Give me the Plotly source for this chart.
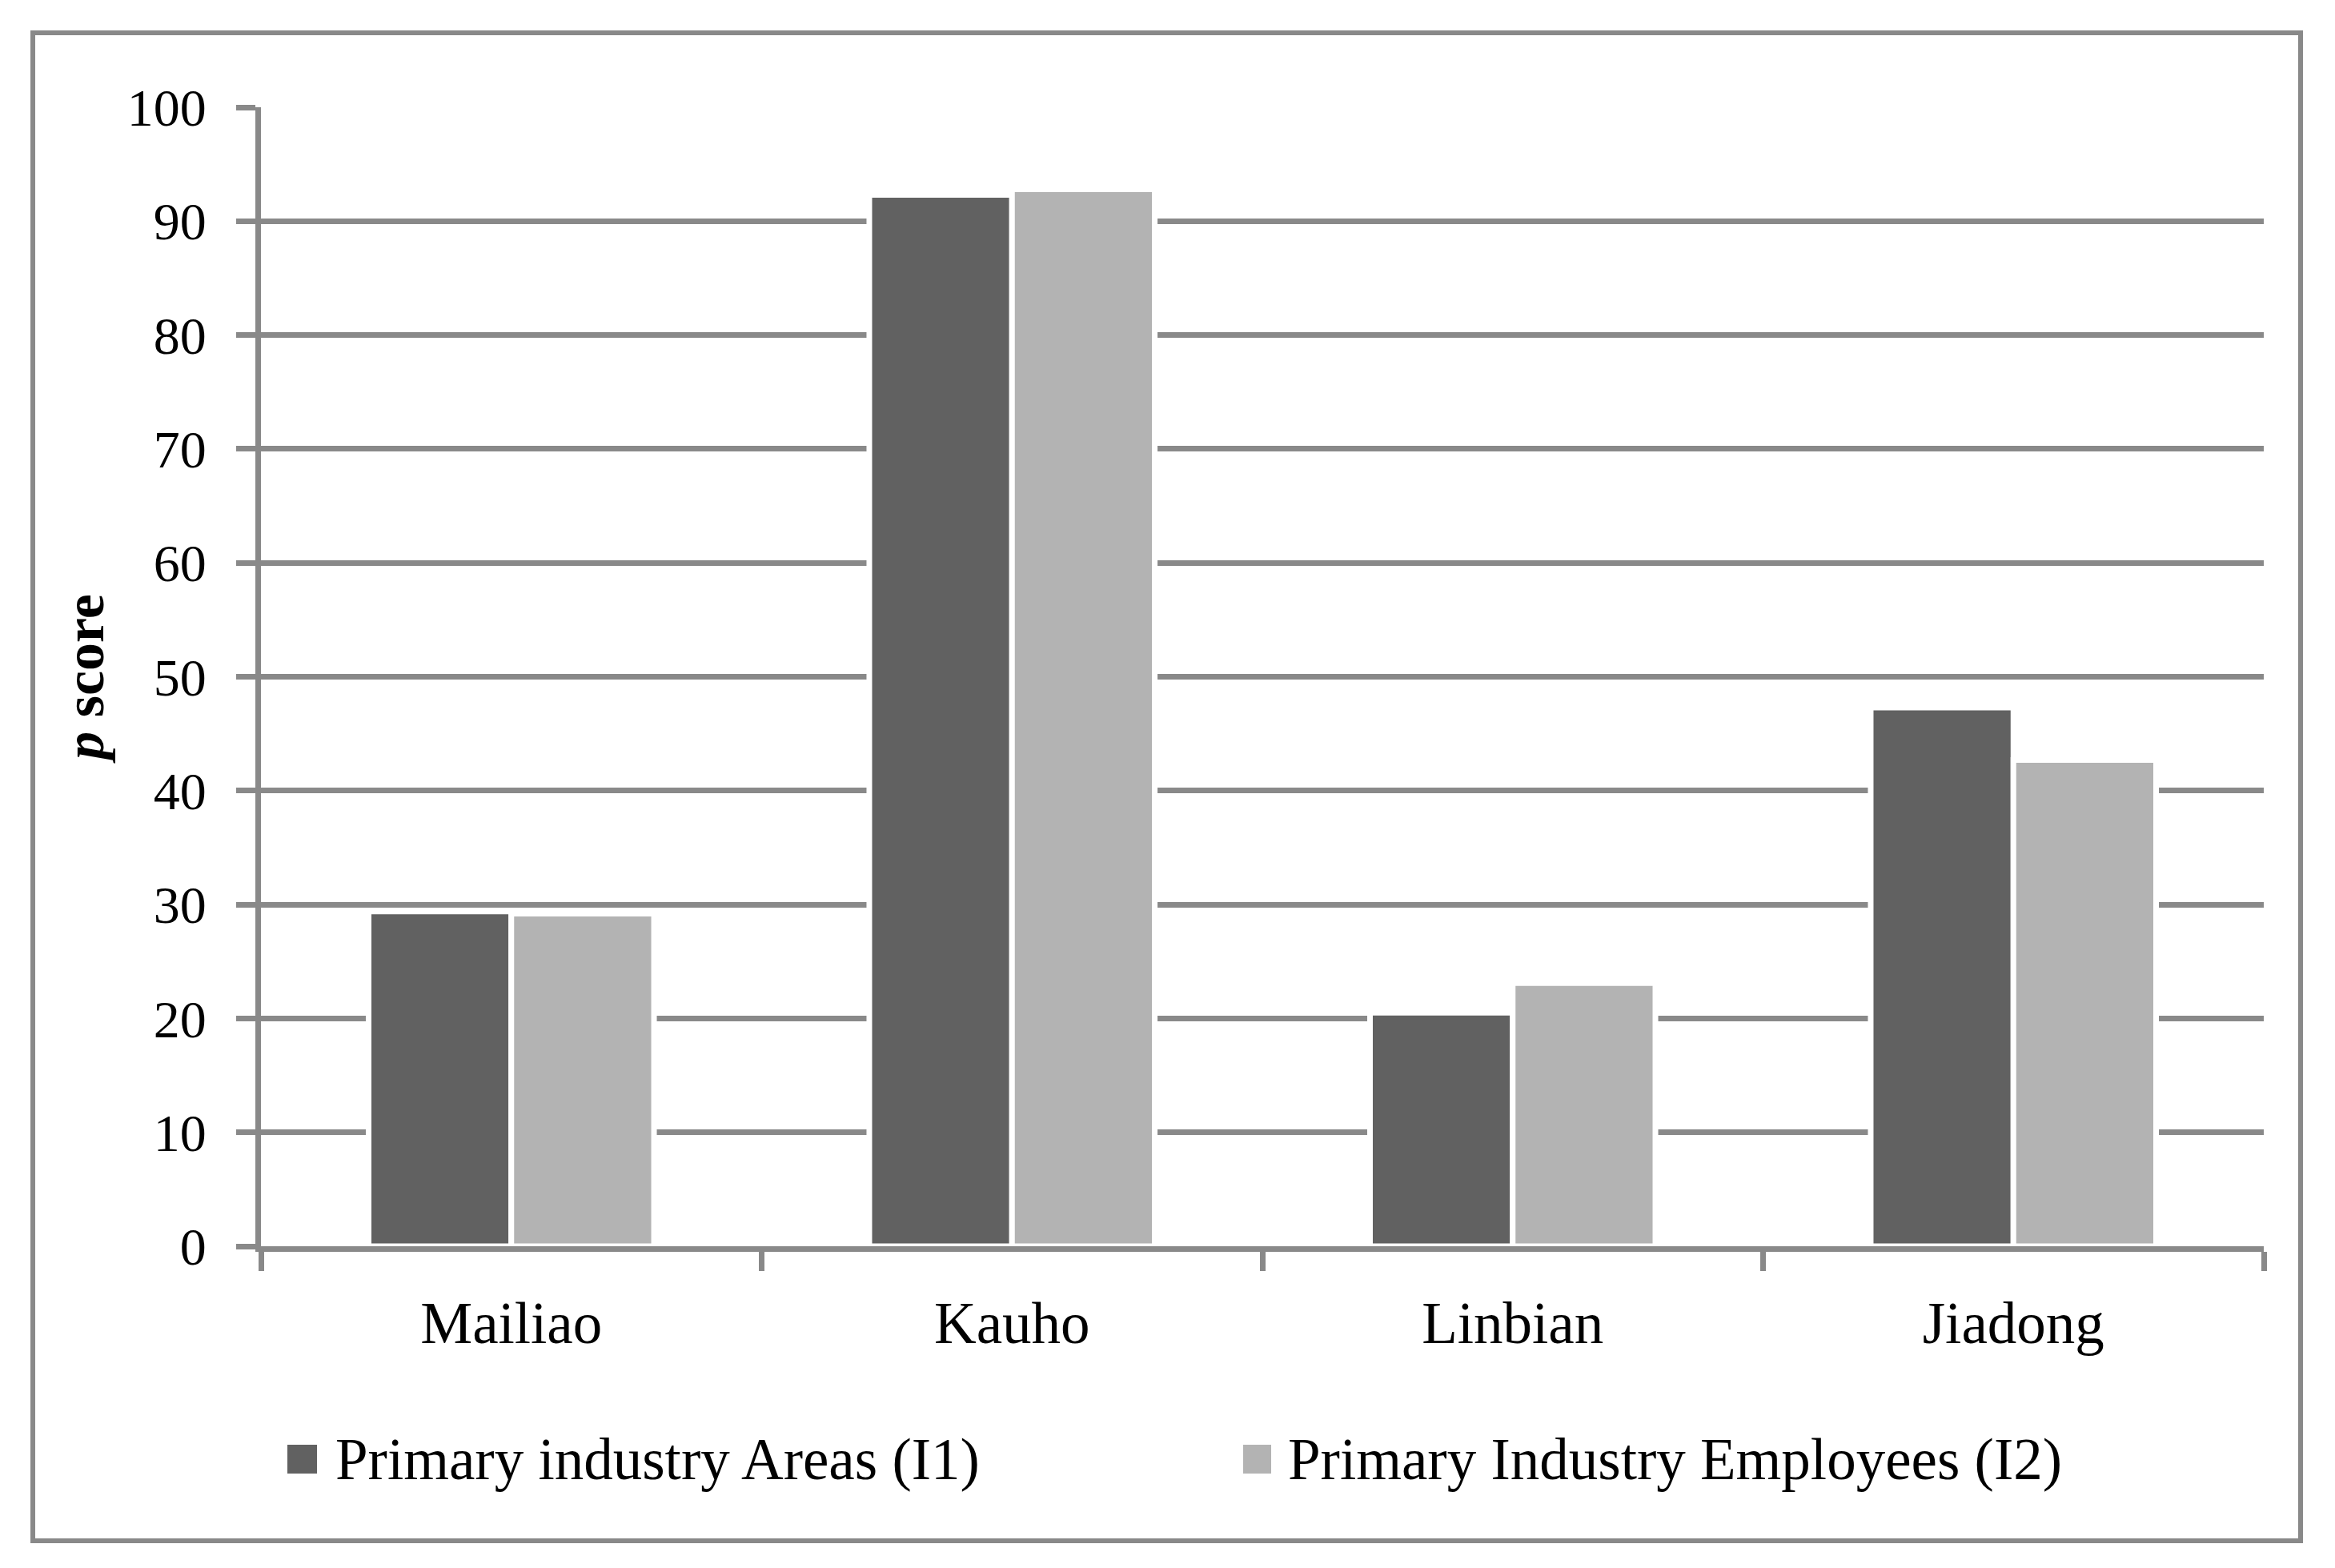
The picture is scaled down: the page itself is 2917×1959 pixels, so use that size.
import plotly.graph_objects as go

# ---- data ----
categories = ["Mailiao", "Kauho", "Linbian", "Jiadong"]
series_names = ["Primary industry Areas (I1)", "Primary Industry Employees (I2)"]
areas_i1 = [29.4, 92.3, 20.5, 47.3]
employees_i2 = [29.2, 92.8, 23.1, 42.7]
y_ticks = [0, 10, 20, 30, 40, 50, 60, 70, 80, 90, 100]

# ---- style ----
W, H = 2917, 1959
OFF = 8  # page body margin
L, R, T, B = 326 - OFF, 89 + OFF, 134 - OFF, 402 + OFF
DARK = "#616161"
LIGHT = "#b3b3b3"
GRID = "#898989"
FONT = "Liberation Serif"
FS_TICK = 66
FS_TEXT = 73

pw = W - L - R
ph = H - T - B


def px_x(x):
    # x given in screen pixels of the reference
    return (x - OFF - L) / pw


def px_y(y):
    return (H - B - (y - OFF)) / ph


fig = go.Figure()
for name, vals, col in [(series_names[0], areas_i1, DARK), (series_names[1], employees_i2, LIGHT)]:
    fig.add_trace(go.Bar(
        x=categories, y=vals, name=name,
        marker=dict(color=col, line=dict(color="white", width=7)),
        showlegend=False,
    ))

# custom legend (large square swatches)
legend_items = [
    (series_names[0], DARK, 359, 396, 417),
    (series_names[1], LIGHT, 1553, 1588, 1607),
]
shapes = []
annotations = []
for name, col, sx0, sx1, tx in legend_items:
    shapes.append(dict(type="rect", xref="paper", yref="paper",
                       x0=px_x(sx0), x1=px_x(sx1), y0=px_y(1841), y1=px_y(1805),
                       fillcolor=col, line=dict(width=0)))
    annotations.append(dict(xref="paper", yref="paper", x=px_x(tx), y=px_y(1823),
                            xanchor="left", yanchor="middle", showarrow=False,
                            text=name, font=dict(family=FONT, size=FS_TEXT, color="black")))

# outer border
shapes.append(dict(type="rect", xref="paper", yref="paper",
                   x0=px_x(41), x1=px_x(2874), y0=px_y(1925), y1=px_y(41),
                   line=dict(color=GRID, width=6), fillcolor="rgba(0,0,0,0)", layer="below"))

fig.update_layout(
    width=W, height=H,
    margin=dict(l=L, r=R, t=T, b=B, pad=0),
    paper_bgcolor="white", plot_bgcolor="white",
    barmode="group", bargap=0.43, bargroupgap=0.0,
    font=dict(family=FONT, size=FS_TICK, color="black"),
    shapes=shapes, annotations=annotations,
    showlegend=False,
)
fig.update_xaxes(
    type="category", showgrid=False,
    showline=True, linecolor=GRID, linewidth=7,
    ticks="outside", tickson="boundaries", ticklen=24, tickwidth=7, tickcolor=GRID,
    ticklabelstandoff=26,
    tickfont=dict(family=FONT, size=FS_TEXT, color="black"),
)
fig.update_yaxes(
    range=[0, 100], tickvals=y_ticks,
    showgrid=True, gridcolor=GRID, gridwidth=7,
    showline=True, linecolor=GRID, linewidth=7,
    ticks="outside", ticklen=24, tickwidth=7, tickcolor=GRID,
    ticklabelstandoff=24,
    zeroline=False,
    tickfont=dict(family=FONT, size=FS_TICK, color="black"),
    title=dict(text="<b><i>p</i> score</b>", standoff=9,
               font=dict(family=FONT, size=70, color="black")),
)

fig.write_html("out.html")
